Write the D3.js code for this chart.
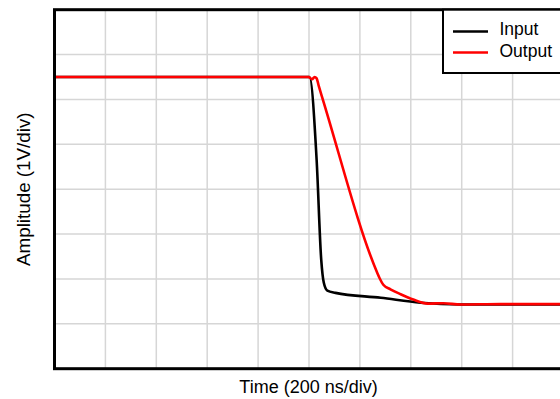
<!DOCTYPE html>
<html><head><meta charset="utf-8">
<script src="https://cdn.jsdelivr.net/npm/d3@7/dist/d3.min.js"></script>
<style>body{margin:0;background:#fff;}svg{display:block;font-family:Arial,"Liberation Sans",sans-serif;}</style>
</head><body>
<script>
// Time in divisions (200 ns/div), amplitude in divisions (1 V/div)
const inputTime = [0, 5.01, 5.15, 5.24, 5.29, 5.36, 5.52, 6.41, 7.19, 7.98, 10];
const inputAmp  = [6.5, 6.5, 4.65, 2.43, 1.92, 1.74, 1.69, 1.58, 1.47, 1.43, 1.43];
const outputTime = [0, 4.99, 5.06, 5.11, 5.15, 5.19, 5.25, 5.29, 6.34, 6.39, 6.46, 6.60, 6.80, 7.05, 7.33, 7.64, 7.98, 8.76, 10];
const outputAmp  = [6.5, 6.5, 6.45, 6.5, 6.47, 6.31, 6.08, 5.93, 2.14, 2.01, 1.87, 1.77, 1.66, 1.54, 1.45, 1.46, 1.43, 1.44, 1.44];
const xDivs = d3.range(0, 11);
const yDivs = d3.range(0, 9);
const seriesNames = ["Input", "Output"];
const seriesColors = ["#000000", "#ff0000"];
const xTitle = "Time (200 ns/div)";
const yTitle = "Amplitude (1V/div)";

const W = 560, H = 399;
const m = {left: 54.5, top: 9.7, right: 563.5, bottom: 368.7};
const x = d3.scaleLinear().domain([0, 10]).range([m.left, m.right]);
const y = d3.scaleLinear().domain([0, 8]).range([m.bottom, m.top]);

const svg = d3.select("body").append("svg").attr("width", W).attr("height", H);

// grid
const g = svg.append("g");
g.selectAll("line.v").data(xDivs.slice(1, -1)).join("line")
  .attr("x1", d => x(d)).attr("x2", d => x(d)).attr("y1", m.top).attr("y2", m.bottom)
  .attr("stroke", "#d6d6d6").attr("stroke-width", 1.5);
g.selectAll("line.h").data(yDivs.slice(1, -1)).join("line")
  .attr("y1", d => y(d)).attr("y2", d => y(d)).attr("x1", m.left).attr("x2", m.right)
  .attr("stroke", "#d6d6d6").attr("stroke-width", 1.5);

// series
const line = d3.line().x(d => x(d[0])).y(d => y(d[1])).curve(d3.curveMonotoneX);
const data = [d3.zip(inputTime, inputAmp), d3.zip(outputTime, outputAmp)];
data.forEach((pts, i) => {
  svg.append("path").datum(pts).attr("d", line)
    .attr("fill", "none").attr("stroke", seriesColors[i]).attr("stroke-width", 2.6)
    .attr("stroke-linejoin", "round");
});

// frame
svg.append("rect").attr("x", m.left).attr("y", m.top)
  .attr("width", m.right - m.left).attr("height", m.bottom - m.top)
  .attr("fill", "none").attr("stroke", "#000").attr("stroke-width", 3);

// legend
const lg = svg.append("g");
lg.append("rect").attr("x", 443).attr("y", m.top).attr("width", 130).attr("height", 73 - m.top)
  .attr("fill", "#fff").attr("stroke", "#000").attr("stroke-width", 2);
seriesNames.forEach((n, i) => {
  const yy = 31.5 + i * 21;
  lg.append("line").attr("x1", 453).attr("x2", 488).attr("y1", yy).attr("y2", yy)
    .attr("stroke", seriesColors[i]).attr("stroke-width", 2.6);
  lg.append("text").attr("x", 499.5).attr("y", 34.5 + i * 22.5).attr("font-size", 17.5).attr("fill", "#000").text(n);
});

// axis titles
svg.append("text").attr("x", 308.5).attr("y", 393).attr("text-anchor", "middle")
  .attr("font-size", 18).attr("fill", "#000").text(xTitle);
svg.append("text").attr("transform", `translate(29.5,${(m.top + m.bottom) / 2}) rotate(-90)`)
  .attr("text-anchor", "middle").attr("font-size", 18.8).attr("fill", "#000").text(yTitle);
</script>
</body></html>
